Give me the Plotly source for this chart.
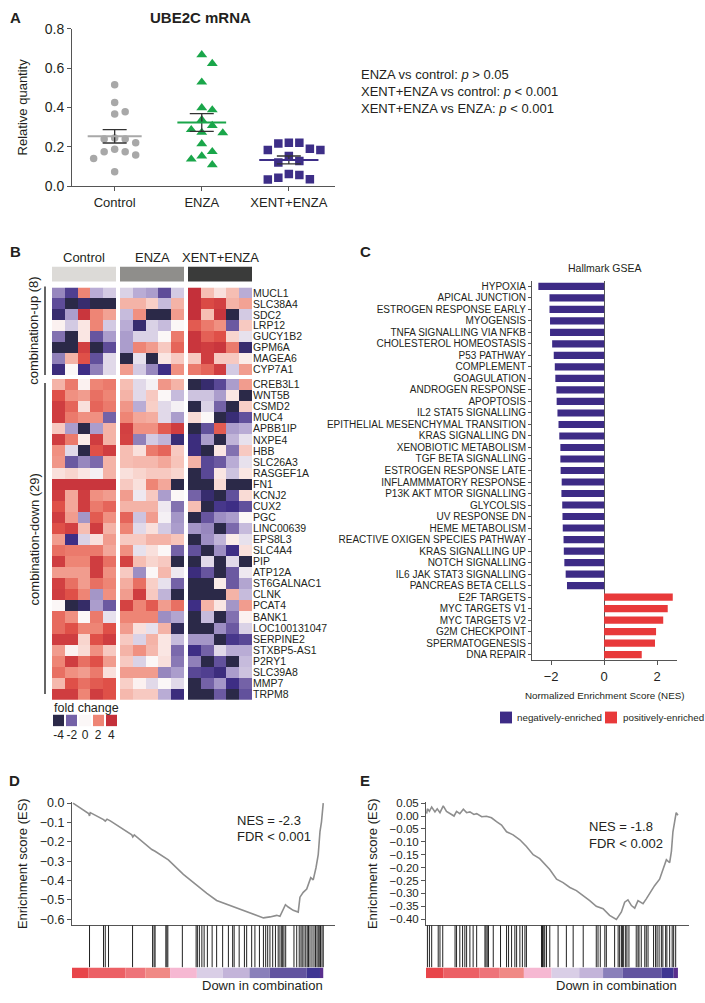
import plotly.graph_objects as go

W, H = 705, 1003
def X(p): return p / W
def Y(p): return 1 - p / H

FONT = "Liberation Sans, Arial, Helvetica, sans-serif"
INK = "#231f20"
AX = "#555555"

# ---------------- Panel A data ----------------
groups = ["Control", "ENZA", "XENT+ENZA"]
ctrl_vals = [0.515, 0.425, 0.378, 0.367, 0.240, 0.220, 0.240, 0.245, 0.187, 0.175, 0.175, 0.158, 0.140, 0.073]
enza_vals = [0.667, 0.623, 0.528, 0.398, 0.387, 0.337, 0.308, 0.287, 0.273, 0.270, 0.215, 0.175, 0.153, 0.137, 0.108]
xent_vals = [0.220, 0.220, 0.217, 0.190, 0.183, 0.183, 0.153, 0.128, 0.120, 0.062, 0.057, 0.042, 0.035, 0.033]
group_mean = [0.253, 0.323, 0.133]
group_sem = [0.034, 0.045, 0.020]
stats_text = ["ENZA vs control: <i>p</i> &gt; 0.05",
              "XENT+ENZA vs control: <i>p</i> &lt; 0.001",
              "XENT+ENZA vs ENZA: <i>p</i> &lt; 0.001"]

# ---------------- Panel B data ----------------
genes_up = ["MUCL1", "SLC38A4", "SDC2", "LRP12", "GUCY1B2", "GPM6A", "MAGEA6", "CYP7A1"]
heat_up = [
    [-1.5, -2.8, 2, -1, -0.6, -0.5, -1, -1.2, -2.5, -0.6, 4, 1, 0.4, 1, -1],
    [-2.5, -4, -3.5, -4, -4, 1.2, 1.2, 0.7, -0.8, 1.2, 4, 3.2, 3.5, 1.2, 1.5],
    [-3.5, -1.2, 3.8, 2, 1.5, -0.8, 1.8, -4, -4, 1.6, 4, 1, 3.8, -4, -0.6],
    [0.1, -0.6, 0.3, 2, -0.6, -1, -3.5, -0.5, -0.8, 0, 2.8, 2.2, 1.8, -2.2, 0.8],
    [-1.8, -4, 0.3, -2.3, -1.2, -1.2, -0.5, -0.5, 0, 2.2, 3.8, 2.7, 3, 0.6, -0.3],
    [-4, -4, 3.5, -4, -2.5, -1.2, 2, 1.6, 0.8, 2.6, 3.8, 3.6, 3.8, 2.2, -3.5],
    [-1.6, 1.2, 3, -2.4, -0.4, -4, -0.3, -4, 0.3, 0.8, 0.8, 3.6, 0.8, 0.8, 0.2],
    [-3.3, 0, -3.2, -1.6, -0.4, 1.6, -0.6, -1.5, -3.2, 1.8, 2.2, 2.6, 3.6, -0.6, 1.6],
]
genes_down = ["CREB3L1", "WNT5B", "CSMD2", "MUC4", "APBB1IP", "NXPE4", "HBB", "SLC26A3", "RASGEF1A",
              "FN1", "KCNJ2", "CUX2", "PGC", "LINC00639", "EPS8L3", "SLC4A4", "PIP", "ATP12A",
              "ST6GALNAC1", "CLNK", "PCAT4", "BANK1", "LOC100131047", "SERPINE2", "STXBP5-AS1",
              "P2RY1", "SLC39A8", "MMP7", "TRPM8"]
heat_down = [
    [1.2, 2.2, 0.1, 2, 2.2, 1, -0.4, -0.1, 1.7, 1.2, -4, -3.5, -2.6, -1.2, 1.6],
    [3, 1.8, 1.6, 2.4, 2, 1.2, -0.4, 0.8, 0, -0.8, -0.7, -0.7, -1.2, 0.3, -4],
    [3.6, 2.6, 0.4, 2.6, 2.2, 1.7, -1, 0.7, -0.4, -0.1, -4, -0.5, -2, -4, 0.7],
    [3.6, 2.2, 1.8, 1.8, -2, 2, 1.4, 1.3, -0.4, -1.2, 0.5, 0, -4, -3.4, -2.4],
    [0.8, -1.2, -4, -1.2, 1.2, 3.5, 1.8, 1.8, 2.8, 3.6, -4, -2.4, 2.8, -1.2, -1],
    [3.6, 2.2, 0.2, 3.6, 1.2, 3.4, -1.6, -0.6, -0.9, -3.4, -3.3, -1.2, -4, -0.9, -0.3],
    [1.8, -0.4, -4, 3, 3.6, 1, 0.4, 2.2, 2.6, 0.8, -3.3, -4, 0.3, -1.8, 0.8],
    [1.7, -2.2, -1.5, -1.9, 1.2, 1, 1.1, 1.1, 1.4, 0.9, 1.2, -2.6, -2.2, -1, -0.3],
    [0.4, 0.6, 0.3, -0.1, 1.2, 0.4, 0.6, 0.8, 0.8, 0.6, -4, -2.6, 0.3, -0.7, 0.3],
    [3.8, 3.8, 3.8, 3.8, 3.8, 0.8, 0.4, 2, 1.4, -4, -4, -4, 0.5, -4, -4],
    [3.6, 1.4, 3.6, 1.8, 1.6, 1.6, -0.2, 0.8, -1.2, 0, -2, -3.5, -4, -2.4, 0.5],
    [3, 1.4, 3.6, 2.2, 2.6, 1.2, 1.2, 1.2, -0.2, -1.8, 1, -4, -3, -3.2, -2.4],
    [3.6, 1.6, -1.3, 2.8, 1.8, 2.6, -0.7, 1.6, -0.1, -1.3, -4, -2.3, -1.4, -1.2, 0],
    [3, 3.5, 1, 3.6, 1.2, 2, -0.4, 0.4, -0.6, -1.2, -1.3, -1.5, -4, -1.9, -0.8],
    [1.6, -3.2, -0.5, 0.4, 1.6, 0.8, 0.8, 1.2, 1.2, 0.9, -4, -1.4, -0.9, 0.2, -0.3],
    [2.4, 2.2, 2.2, 2.2, 1.4, 1.8, -0.3, 0.4, 0, -2, -2.4, -4, -1.4, -3.2, 0.4],
    [3.6, 2, 2, 3.6, 2.4, 3.4, 1, 0.6, 0.8, -4, -4, -0.4, -4, -0.4, -4],
    [1.6, 1.6, 1.6, 3.6, 1.8, 0.8, -1.4, 0, 1.1, -0.2, -3.3, -2.3, -4, -2.2, -0.2],
    [3.5, 2.4, 1.6, 2.4, 2, 1.3, 2.4, 0.7, -0.3, -2, -4, -4, 0.2, -2.2, -1.1],
    [3.6, 3, 2, -1.3, 1.8, 1.6, 3.6, 0.8, -0.9, -4, -4, -4, -4, 1.2, -0.8],
    [0, -4, -3.6, -1.2, -2.2, 3.4, 2, 2.8, 1.6, 2.4, -3.2, 1.2, 0.3, -1.3, 1.6],
    [2.5, 1.8, 0, 2.2, -0.3, 2, 2, 2, -1.4, -1.1, -4, -0.8, -4, -1.8, 0.1],
    [2.5, 3, 2, 2, 3, 1.6, 0.4, -0.3, 1.2, -3.8, -4, -4, -1.4, -2.2, -0.5],
    [3.6, 3.6, 0.6, 3, 3.6, 0.8, -0.5, 1.2, 0.3, -0.8, -1.3, -1.3, -4, -3, -2.6],
    [1.6, 0.1, 0.5, 1.8, 0.8, 1.2, 1.8, 1.1, 0.3, -1.9, -3.2, -2, -0.4, -1, -1],
    [2, 3.6, 2.4, 3, 1.6, 0.8, -0.5, 0, 0.4, -1.7, -1.6, -4, -2.4, -4, -0.8],
    [2.4, 1.8, 1.6, 2.2, 0.4, 1.6, 1.6, 1.6, -1.5, -1.2, -2.6, -2.8, -3.3, -1.2, -0.7],
    [1.1, 3, 2.4, 2.8, 3, 0.7, 0.1, -0.4, 0, -0.4, -4, -2, -1.3, -3.2, -2],
    [3.6, 3.6, 2, 3.6, 3, 1.1, 0.8, 0.8, -1, -3.3, -4, -4, -2.2, -4, -2.4],
]
fold_legend_vals = [-4, -2, 0, 2, 4]

# ---------------- Panel C data ----------------
pathways = ["HYPOXIA", "APICAL JUNCTION", "ESTROGEN RESPONSE EARLY", "MYOGENSIS",
            "TNFA SIGNALLING VIA NFKB", "CHOLESTEROL HOMEOSTASIS", "P53 PATHWAY", "COMPLEMENT",
            "GOAGULATION", "ANDROGEN RESPONSE", "APOPTOSIS", "IL2 STAT5 SIGNALLING",
            "EPITHELIAL MESENCHYMAL TRANSITION", "KRAS SIGNALLING DN", "XENOBIOTIC METABOLISM",
            "TGF BETA SIGNALLING", "ESTROGEN RESPONSE LATE", "INFLAMMMATORY RESPONSE",
            "P13K AKT MTOR SIGNALLING", "GLYCOLSIS", "UV RESPONSE DN", "HEME METABOLISM",
            "REACTIVE OXIGEN SPECIES PATHWAY", "KRAS SIGNALLING UP", "NOTCH SIGNALLING",
            "IL6 JAK STAT3 SIGNALLING", "PANCREAS BETA CELLS", "E2F TARGETS", "MYC TARGETS V1",
            "MYC TARGETS V2", "G2M CHECKPOINT", "SPERMATOGENESIS", "DNA REPAIR"]
nes = [-2.48, -2.06, -2.06, -2.04, -2.04, -1.96, -1.90, -1.86, -1.84, -1.80, -1.79, -1.76,
       -1.72, -1.69, -1.65, -1.65, -1.64, -1.60, -1.61, -1.58, -1.57, -1.56, -1.53, -1.52,
       -1.50, -1.45, -1.40, 2.59, 2.40, 2.23, 1.96, 1.92, 1.42]

# ---------------- Panel D / E data ----------------
d_rank = [0, 6.25, 6.6, 6.9, 12.2, 12.9, 13.6, 14.9, 23.5, 23.9, 24.5, 31.5, 32.8, 37.1, 38.1,
          44.1, 49.5, 53.5, 57.4, 62.8, 68.1, 72.1, 76.1, 78.7, 81.4, 82.7, 84.9, 86.0, 88.0,
          90.0, 90.7, 92.0, 93.4, 95.0, 96.0, 97.1, 98.0, 98.7, 99.3, 100]
d_es = [0, -0.054, -0.066, -0.049, -0.085, -0.093, -0.083, -0.092, -0.164, -0.175, -0.164,
        -0.24, -0.249, -0.283, -0.293, -0.368, -0.427, -0.466, -0.503, -0.529, -0.554, -0.575,
        -0.593, -0.588, -0.58, -0.585, -0.525, -0.537, -0.554, -0.563, -0.486, -0.461, -0.444,
        -0.385, -0.397, -0.334, -0.266, -0.147, -0.097, 0]
d_hits = [6.6, 12.2, 12.9, 14.2, 23.8, 31.8, 32.4, 32.8, 37.1, 37.5, 37.9, 43.7, 49.2, 49.7,
          50.5, 51.5, 52.4, 53.7, 55.6, 57.4, 59.8, 62.1, 63.8, 64.4, 66.4, 68.5, 69.4, 71.4,
          72.7, 74.5, 76.1, 77.0, 77.8, 78.7, 79.8, 80.9, 82.0, 82.7, 83.4, 83.8, 84.3, 85.0,
          88.3, 89.4, 90.4, 91.1, 91.6, 92.3, 93.0, 93.6, 94.1, 94.7, 95.5, 96.3, 96.9, 97.5,
          98.0, 98.4, 98.9, 99.5, 100.0]
d_bar_edges = [-0.4, 6.25, 20.9, 28.9, 38.8, 49.5, 59.8, 70.5, 78.5, 93.4, 98.7, 100.0]

e_rank = [0, 0.3, 1.1, 2.0, 3.3, 4.2, 5.3, 6.6, 7.9, 9.3, 10.9, 11.9, 13.2, 14.6, 15.9, 17.2,
          18.8, 19.9, 21.9, 23.8, 25.8, 27.8, 29.8, 31.8, 34.4, 37.1, 39.7, 42.4, 45.0, 49.0,
          51.7, 54.3, 57.0, 59.6, 62.3, 64.9, 67.5, 70.2, 72.8, 75.5, 76.2, 77.5, 78.8, 80.1,
          81.5, 82.8, 84.1, 86.1, 87.4, 89.4, 90.7, 92.7, 94.0, 95.4, 96.7, 97.4, 98.0, 98.7,
          99.3, 100]
e_es = [0.009, 0.028, 0.018, 0.035, 0.016, 0.028, 0.013, 0.039, 0.018, 0.009, 0.0, 0.018,
        0.009, 0.026, 0.013, 0.016, 0.006, 0.009, -0.003, -0.001, -0.007, -0.022, -0.035,
        -0.061, -0.073, -0.092, -0.118, -0.15, -0.165, -0.207, -0.245, -0.258, -0.277, -0.289,
        -0.308, -0.328, -0.35, -0.359, -0.385, -0.401, -0.391, -0.372, -0.334, -0.325, -0.347,
        -0.357, -0.328, -0.34, -0.321, -0.289, -0.27, -0.245, -0.207, -0.169, -0.181, -0.137,
        -0.061, -0.01, 0.013, 0.003]
e_hits = [0.3, 1.1, 2.0, 4.6, 5.3, 6.4, 11.3, 11.9, 13.2, 14.3, 15.2, 15.9, 17.2, 18.5, 19.9,
          23.2, 23.6, 24.1, 24.6, 26.5, 29.4, 31.8, 32.6, 33.8, 35.1, 35.8, 37.1, 38.1, 39.1,
          39.7, 45.7, 46.1, 46.6, 47.0, 47.7, 49.0, 52.3, 55.6, 58.3, 62.3, 67.5, 68.2, 69.1,
          70.9, 71.5, 74.8, 76.2, 76.8, 77.5, 77.9, 78.4, 79.2, 79.7, 80.5, 83.4, 84.1, 84.5,
          85.4, 86.8, 87.4, 88.1, 90.3, 91.1, 91.7, 92.5, 93.4, 94.0, 95.1, 95.6, 96.7, 97.7,
          98.3, 99.1]
e_bar_edges = [-0.26, 6.6, 20.9, 29.1, 38.7, 49.7, 60.7, 70.2, 78.1, 93.4, 98.3, 100.0]
rank_colors = ["#e8454a", "#ec6065", "#ee747a", "#f08985", "#f6b8d2", "#d9cee6", "#c3b4d9",
               "#8a80ba", "#62549f", "#3e3592", "#5a2f8e"]

# ---------------- helpers ----------------
def swarm(vals, diam, xppu, yppu):
    order = sorted(range(len(vals)), key=lambda i: -vals[i])
    steps = [0]
    for k in range(1, 30):
        steps += [k, -k]
    placed, offs = [], [0.0] * len(vals)
    for i in order:
        yv = vals[i] * yppu
        xo = 0.0
        for s in steps:
            xo = s * diam
            if all((xo - a) ** 2 + (yv - b) ** 2 >= diam ** 2 for a, b in placed):
                break
        placed.append((xo, yv))
        offs[i] = xo / xppu
    return offs

def hit_lines(ranks):
    xs, ys = [], []
    for r in ranks:
        xs += [r, r, None]
        ys += [0, 1, None]
    return xs, ys

def rank_bar(edges):
    mids = [(a + b) / 2 for a, b in zip(edges[:-1], edges[1:])]
    widths = [b - a for a, b in zip(edges[:-1], edges[1:])]
    return mids, widths

fig = go.Figure()
ann, shp = [], []
def text(x, y, t, size=12, xanchor="center", yanchor="middle", bold=False, angle=0, color=INK, xref="paper"):
    if bold:
        t = "<b>" + t + "</b>"
    ann.append(dict(x=x, y=y, xref=xref, yref="paper", text=t, showarrow=False, xanchor=xanchor,
                    yanchor=yanchor, textangle=angle, font=dict(size=size, family=FONT, color=color)))

# ================= Panel A =================
group_vals = [ctrl_vals, enza_vals, xent_vals]
group_colors = ["#a8a8a8", "#1aa64a", "#3d2e87"]
symbols = ["circle", "triangle-up", "square"]
msizes = [7.5, 9.5, 8.5]
mean_half = [0.31, 0.28, 0.34]
for gi, vals in enumerate(group_vals):
    offs = swarm(vals, 10.5, 87.0, 200.0)
    fig.add_trace(go.Scatter(x=[gi + o for o in offs], y=vals, mode="markers",
                             marker=dict(symbol=symbols[gi], size=msizes[gi], color=group_colors[gi]),
                             xaxis="x", yaxis="y", hoverinfo="skip"))
for gi in range(3):
    fig.add_trace(go.Scatter(x=[gi], y=[group_mean[gi]], mode="markers",
                             marker=dict(size=1, color="rgba(0,0,0,0)"),
                             error_y=dict(type="data", array=[group_sem[gi]], color="#333333",
                                          thickness=1.3, width=12),
                             xaxis="x", yaxis="y", hoverinfo="skip"))
    fig.add_trace(go.Scatter(x=[gi - mean_half[gi], gi + mean_half[gi]],
                             y=[group_mean[gi], group_mean[gi]], mode="lines",
                             line=dict(color=group_colors[gi], width=2),
                             xaxis="x", yaxis="y", hoverinfo="skip"))

text(X(8), Y(10), "A", 15, bold=True, xanchor="left")
text(X(200), Y(10), "UBE2C mRNA", 15, bold=True)
text(X(22), Y(101), "Relative quantity", 13, angle=-90)
for i, t in enumerate(stats_text):
    text(X(359), Y(68 + 17 * i), t, 13, xanchor="left")

# ================= Panel B =================
stops = [(-4, "#2b2948"), (-3.2, "#3e2e85"), (-2, "#7462a7"), (-1, "#b9acd5"), (0, "#fbf7f7"),
         (1, "#f6beb3"), (2, "#ee8575"), (3, "#df5048"), (4, "#c4303a")]
cscale = [[(v + 4) / 8, c] for v, c in stops]
group_x = ["x2", "x3", "x4"]
for gi, xa in enumerate(group_x):
    for rows, genes, ya in [(heat_up, genes_up, "y2"), (heat_down, genes_down, "y3")]:
        z = [r[gi * 5:(gi + 1) * 5] for r in rows]
        fig.add_trace(go.Heatmap(z=z, x=list(range(5)), y=genes, xaxis=xa, yaxis=ya,
                                 colorscale=cscale, zmin=-4, zmax=4, showscale=False,
                                 hoverinfo="skip"))
fig.add_trace(go.Heatmap(z=[fold_legend_vals], x=list(range(len(fold_legend_vals))), y=[0],
                         xaxis="x5", yaxis="y4", colorscale=cscale, zmin=-4, zmax=4,
                         showscale=False, xgap=2, hoverinfo="skip"))

header_colors = ["#dcdad7", "#8f8e8b", "#3a3b3a"]
for gi, xa in enumerate(group_x):
    shp.append(dict(type="rect", xref=xa + " domain", yref="paper", x0=0, x1=1,
                    y0=Y(278), y1=Y(263), fillcolor=header_colors[gi], line=dict(width=0)))
    text(0.5, Y(254), groups[gi], 13, xref=xa + " domain")

text(X(8), Y(247), "B", 15, bold=True, xanchor="left")
shp.append(dict(type="line", xref="paper", yref="paper", x0=X(45), x1=X(45), y0=Y(283), y1=Y(373),
                line=dict(color="#333", width=1.5)))
shp.append(dict(type="line", xref="paper", yref="paper", x0=X(45), x1=X(45), y0=Y(381), y1=Y(697),
                line=dict(color="#333", width=1.5)))
text(X(34), Y(328), "combination-up (8)", 13, angle=-90)
text(X(34), Y(540), "combination-down (29)", 13, angle=-90)
text(X(86), Y(711), "fold change", 12.5)

# ================= Panel C =================
neg_p = [p for p, v in zip(pathways, nes) if v < 0]
neg_v = [v for v in nes if v < 0]
pos_p = [p for p, v in zip(pathways, nes) if v >= 0]
pos_v = [v for v in nes if v >= 0]
NEG_C, POS_C = "#3d2b86", "#e8393a"
fig.add_trace(go.Bar(y=neg_p, x=neg_v, orientation="h", marker=dict(color=NEG_C, line=dict(width=0)),
                     width=0.62, xaxis="x6", yaxis="y5", hoverinfo="skip"))
fig.add_trace(go.Bar(y=pos_p, x=pos_v, orientation="h", marker=dict(color=POS_C, line=dict(width=0)),
                     width=0.62, xaxis="x6", yaxis="y5", hoverinfo="skip"))
text(X(358), Y(247), "C", 15, bold=True, xanchor="left")
text(X(605), Y(264), "Hallmark GSEA", 10.5)
text(X(605), Y(699), "Normalized Enrichment Score (NES)", 9.8)
shp.append(dict(type="rect", xref="paper", yref="paper", x0=X(500), x1=X(512), y0=Y(727), y1=Y(715),
                fillcolor=NEG_C, line=dict(width=0)))
shp.append(dict(type="rect", xref="paper", yref="paper", x0=X(605), x1=X(617), y0=Y(727), y1=Y(715),
                fillcolor=POS_C, line=dict(width=0)))
text(X(515), Y(721), "negatively-enriched", 9.8, xanchor="left")
text(X(621), Y(721), "positively-enriched", 9.8, xanchor="left")

# ================= Panels D & E =================
for (rk, es, hits, edges, xa, ya, xh, yh, xc, yc) in [
        (d_rank, d_es, d_hits, d_bar_edges, "x7", "y6", "x8", "y7", "x9", "y8"),
        (e_rank, e_es, e_hits, e_bar_edges, "x10", "y9", "x11", "y10", "x12", "y11")]:
    fig.add_trace(go.Scatter(x=rk, y=es, mode="lines", line=dict(color="#8e8e8e", width=1.6),
                             xaxis=xa, yaxis=ya, hoverinfo="skip"))
    hx, hy = hit_lines(hits)
    fig.add_trace(go.Scatter(x=hx, y=hy, mode="lines", line=dict(color="#222222", width=1),
                             xaxis=xh, yaxis=yh, hoverinfo="skip"))
    mids, widths = rank_bar(edges)
    fig.add_trace(go.Bar(x=mids, y=[1] * len(mids), width=widths,
                         marker=dict(color=rank_colors, line=dict(width=0)),
                         xaxis=xc, yaxis=yc, hoverinfo="skip"))

text(X(7), Y(785), "D", 15, bold=True, xanchor="left")
text(X(358), Y(785), "E", 15, bold=True, xanchor="left")
text(X(22), Y(870), "Enrichment score (ES)", 13, angle=-90)
text(X(372), Y(870), "Enrichment score (ES)", 13, angle=-90)
text(X(235), Y(826), "NES = -2.3", 13, xanchor="left")
text(X(235), Y(842), "FDR &lt; 0.001", 13, xanchor="left")
text(X(587), Y(832), "NES = -1.8", 13, xanchor="left")
text(X(587), Y(849), "FDR &lt; 0.002", 13, xanchor="left")
text(X(262), Y(993), "Down in combination", 13)
text(X(616), Y(993), "Down in combination", 13)

# ================= Layout =================
def hidden(domain, rng, anchor):
    return dict(domain=domain, range=rng, anchor=anchor, visible=False, fixedrange=True)

line_ax = dict(showline=True, linecolor=AX, linewidth=1, ticks="outside", tickcolor=AX, ticklen=4,
               showgrid=False, zeroline=False, fixedrange=True)

def gene_axis(domain, genes):
    return dict(domain=domain, anchor="x4", side="right", autorange="reversed", type="category",
                tickmode="array", tickvals=genes, ticktext=genes, showline=False, ticks="",
                showgrid=False, zeroline=False, tickfont=dict(size=10.5), fixedrange=True)

layout = dict(
    width=W, height=H, margin=dict(l=0, r=0, t=0, b=0), paper_bgcolor="white", plot_bgcolor="white",
    showlegend=False, font=dict(family=FONT, size=12, color=INK), barmode="overlay",
    annotations=ann, shapes=shp,
)
layout["xaxis"] = dict(domain=[X(72), X(335)], range=[-0.49, 2.53], anchor="y", tickvals=[0, 1, 2],
                       ticktext=groups, tickfont=dict(size=13), **line_ax)
layout["yaxis"] = dict(domain=[Y(181), Y(21)], range=[0, 0.8], anchor="x",
                       tickvals=[0, 0.2, 0.4, 0.6, 0.8], tickformat=".1f", tickfont=dict(size=14), **line_ax)
layout["xaxis2"] = hidden([X(52), X(116)], [-0.5, 4.5], "y2")
layout["xaxis3"] = hidden([X(120), X(184)], [-0.5, 4.5], "y2")
layout["xaxis4"] = hidden([X(188), X(252)], [-0.5, 4.5], "y2")
layout["yaxis2"] = gene_axis([Y(373), Y(284)], genes_up)
layout["yaxis3"] = gene_axis([Y(703), Y(377)], genes_down)
layout["xaxis5"] = dict(domain=[X(52), X(118)], range=[-0.5, 4.5], anchor="y4", tickmode="array",
                        tickvals=list(range(5)), ticktext=[str(v) for v in fold_legend_vals], ticks="",
                        showline=False, showgrid=False, zeroline=False, tickfont=dict(size=12),
                        fixedrange=True)
layout["yaxis4"] = hidden([Y(730), Y(718)], [-0.5, 0.5], "x5")
c_x = dict(line_ax)
c_x.update(zeroline=True, zerolinecolor=AX, zerolinewidth=1)
layout["xaxis6"] = dict(domain=[X(532), X(677)], range=[-2.72, 2.75], anchor="y5", tickvals=[-2, 0, 2],
                        tickfont=dict(size=13), **c_x)
c_y = dict(line_ax)
c_y.update(ticklen=3)
layout["yaxis5"] = dict(domain=[Y(663), Y(277)], anchor="x6", type="category", categoryorder="array",
                        categoryarray=pathways, tickmode="array", tickvals=pathways, ticktext=pathways,
                        autorange="reversed", tickfont=dict(size=10), **c_y)
for (xa, ya, xh, yh, xc, yc, x0, x1, rng) in [
        ("xaxis7", "yaxis6", "xaxis8", "yaxis7", "xaxis9", "yaxis8", 72, 335, [-0.4, 104.7]),
        ("xaxis10", "yaxis9", "xaxis11", "yaxis10", "xaxis12", "yaxis11", 426, 689, [-0.26, 104.4])]:
    layout[xa] = dict(domain=[X(x0), X(x1)], range=rng, anchor=ya.replace("axis", ""), showline=True,
                      linecolor=AX, ticks="", showticklabels=False, showgrid=False, zeroline=False,
                      fixedrange=True)
    layout[xh] = hidden([X(x0), X(x1)], rng, yh.replace("axis", ""))
    layout[yh] = hidden([Y(975), Y(932)], [0, 1], xh.replace("axis", ""))
    layout[xc] = hidden([X(x0), X(x1)], rng, yc.replace("axis", ""))
    layout[yc] = hidden([Y(986), Y(975)], [0, 1], xc.replace("axis", ""))
layout["yaxis6"] = dict(domain=[Y(932), Y(807)], range=[-0.6305, 0.005], anchor="x7",
                        tickvals=[0, -0.1, -0.2, -0.3, -0.4, -0.5, -0.6], tickformat=".1f",
                        tickfont=dict(size=12.5), **line_ax)
layout["yaxis9"] = dict(domain=[Y(932), Y(807)], range=[-0.4229, 0.0538], anchor="x10",
                        tickvals=[0.05, 0, -0.05, -0.1, -0.15, -0.2, -0.25, -0.3, -0.35, -0.4],
                        tickformat=".2f", tickfont=dict(size=11.5), **line_ax)

fig.update_layout(**layout)
fig.write_html("out.html", config={"displayModeBar": False, "staticPlot": True},
               post_script="document.body.style.margin='0px';")
